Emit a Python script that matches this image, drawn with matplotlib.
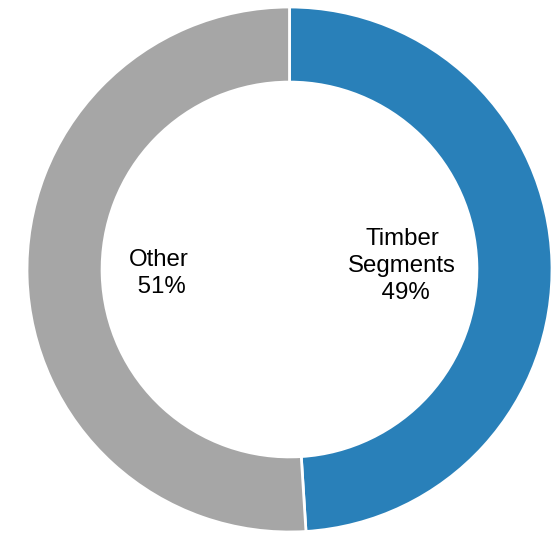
import numpy as np
import matplotlib.pyplot as plt

plt.rcParams['font.family'] = ['Liberation Sans', 'DejaVu Sans']

labels = ['Timber\nSegments', 'Other']
shares = [49, 51]
colors = ['#2980b9', '#a6a6a6']
label_r = [0.43, 0.50]

fig = plt.figure(figsize=(5.51, 5.33), dpi=100)
ax = fig.add_axes([27/551, 1/533, 525/551, 525/533])

wedges, _ = ax.pie(shares, colors=colors, startangle=90, counterclock=False,
                   radius=1.0,
                   wedgeprops=dict(width=0.286, edgecolor='white', linewidth=2))

# labels inside the hole, placed along each wedge's mid angle
start = 90.0
for lab, s, r in zip(labels, shares, label_r):
    mid = np.deg2rad(start - s / 2 * 3.6)
    start -= s * 3.6
    ax.text(r * np.cos(mid), r * np.sin(mid), f"{lab}\n {s}%",
            ha='center', va='center', multialignment='center',
            fontsize=17.3, linespacing=1.3, color='black')

ax.set_xlim(-1, 1)
ax.set_ylim(-1, 1)
ax.set_aspect('equal')
ax.axis('off')

fig.savefig('out.png', dpi=100)
